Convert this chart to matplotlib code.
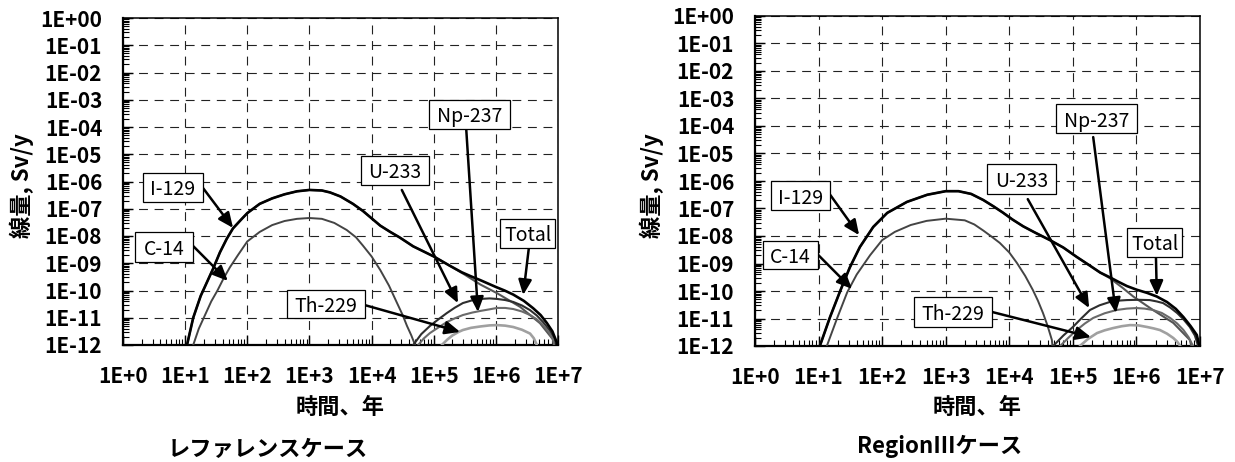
import numpy as np
import matplotlib
matplotlib.use("Agg")
import matplotlib.pyplot as plt
from matplotlib.ticker import LogLocator, FixedLocator, FixedFormatter, NullFormatter
from matplotlib.patches import Rectangle

plt.rcParams['font.family'] = ['Noto Sans CJK JP', 'DejaVu Sans']

# ---------------- data (log10 of time in years, log10 of dose in Sv/y) ----------------
x_tick_labels = ['1E+0', '1E+1', '1E+2', '1E+3', '1E+4', '1E+5', '1E+6', '1E+7']
y_tick_labels = ['1E+00', '1E-01', '1E-02', '1E-03', '1E-04', '1E-05', '1E-06',
                 '1E-07', '1E-08', '1E-09', '1E-10', '1E-11', '1E-12']
x_tick_exp = [0, 1, 2, 3, 4, 5, 6, 7]
y_tick_exp = [0, -1, -2, -3, -4, -5, -6, -7, -8, -9, -10, -11, -12]

# --- Reference case ---
ref_i129_lt = [1.00, 1.03, 1.13, 1.25, 1.35, 1.45, 1.56, 1.67, 1.77, 1.90, 2.00, 2.20, 2.40, 2.60, 2.80,
               3.00, 3.20, 3.33, 3.50, 3.70, 3.86, 4.00, 4.14, 4.30, 4.45, 4.67, 5.00, 5.25, 5.50,
               5.75, 6.02, 6.39, 6.71, 6.92, 6.98]
ref_i129_ld = [-12.6, -12.0, -11.0, -10.2, -9.7, -9.2, -8.6, -8.1, -7.72, -7.40, -7.16, -6.82, -6.62, -6.47, -6.36,
               -6.31, -6.33, -6.40, -6.55, -6.82, -7.08, -7.35, -7.62, -7.85, -8.05, -8.38, -8.75, -9.08, -9.42,
               -9.78, -10.10, -10.60, -11.20, -11.80, -12.50]
ref_c14_lt = [1.10, 1.13, 1.22, 1.30, 1.42, 1.52, 1.62, 1.72, 1.85, 2.00, 2.20, 2.40, 2.60, 2.80, 3.00,
              3.20, 3.40, 3.60, 3.75, 3.86, 4.00, 4.14, 4.28, 4.41, 4.50, 4.57, 4.64, 4.70, 4.73]
ref_c14_ld = [-12.6, -12.0, -11.4, -11.0, -10.4, -10.0, -9.55, -9.15, -8.70, -8.20, -7.85, -7.60, -7.45, -7.37, -7.34,
              -7.37, -7.52, -7.78, -8.05, -8.35, -8.75, -9.25, -9.82, -10.46, -10.90, -11.30, -11.65, -12.0, -12.5]
ref_u233_lt = [4.62, 4.67, 4.80, 4.94, 5.08, 5.21, 5.34, 5.47, 5.62, 5.75, 5.90, 6.02, 6.15, 6.28, 6.42,
               6.55, 6.66, 6.76, 6.86, 6.95, 6.99]
ref_u233_ld = [-12.5, -12.0, -11.6, -11.3, -11.05, -10.83, -10.63, -10.46, -10.36, -10.31, -10.29, -10.31, -10.35,
               -10.42, -10.55, -10.72, -10.92, -11.16, -11.45, -11.8, -12.5]
ref_np237_lt = [4.70, 4.75, 4.84, 4.94, 5.08, 5.21, 5.34, 5.47, 5.62, 5.75, 5.90, 6.02, 6.15, 6.28, 6.42,
                6.55, 6.66, 6.76, 6.85, 6.92, 6.97]
ref_np237_ld = [-12.5, -12.0, -11.76, -11.56, -11.35, -11.16, -11.02, -10.90, -10.81, -10.75, -10.69, -10.64, -10.64,
                -10.68, -10.77, -10.90, -11.06, -11.27, -11.52, -11.8, -12.5]
ref_th229_lt = [5.08, 5.13, 5.22, 5.30, 5.40, 5.47, 5.60, 5.75, 5.90, 6.02, 6.15, 6.28, 6.42, 6.55, 6.61, 6.66, 6.69]
ref_th229_ld = [-12.5, -12.0, -11.8, -11.65, -11.52, -11.45, -11.37, -11.32, -11.28, -11.27, -11.29, -11.34, -11.44,
                -11.58, -11.75, -12.0, -12.5]
ref_total_lt = [1.00, 1.03, 1.13, 1.25, 1.35, 1.45, 1.56, 1.67, 1.77, 1.90, 2.00, 2.20, 2.40, 2.60, 2.80,
                3.00, 3.20, 3.33, 3.50, 3.70, 3.86, 4.00, 4.14, 4.30, 4.45, 4.67, 5.00, 5.25, 5.45,
                5.60, 5.75, 5.88, 6.00, 6.14, 6.28, 6.45, 6.60, 6.72, 6.82, 6.91, 6.98, 7.00]
ref_total_ld = [-12.6, -12.0, -11.0, -10.2, -9.7, -9.2, -8.6, -8.1, -7.72, -7.40, -7.16, -6.82, -6.62, -6.47, -6.36,
                -6.31, -6.33, -6.40, -6.55, -6.82, -7.08, -7.35, -7.62, -7.85, -8.05, -8.38, -8.75, -9.08, -9.33,
                -9.48, -9.62, -9.75, -9.87, -10.00, -10.15, -10.38, -10.65, -10.90, -11.19, -11.5, -11.9, -12.5]

# --- Region III case ---
r3_i129_lt = [1.00, 1.02, 1.18, 1.34, 1.49, 1.65, 1.86, 2.08, 2.39, 2.71, 3.00, 3.20, 3.40, 3.59, 3.75,
              3.90, 4.05, 4.22, 4.40, 4.64, 4.85, 5.06, 5.25, 5.43, 5.58, 5.78, 5.95, 6.26, 6.58, 6.84, 6.92]
r3_i129_ld = [-12.6, -12.0, -10.95, -10.0, -9.15, -8.4, -7.67, -7.16, -6.76, -6.50, -6.37, -6.37, -6.47, -6.69, -6.92,
              -7.15, -7.40, -7.65, -7.87, -8.15, -8.42, -8.76, -9.05, -9.33, -9.53, -9.88, -10.20, -10.69, -11.16,
              -11.78, -12.5]
r3_c14_lt = [1.10, 1.13, 1.29, 1.45, 1.60, 1.81, 2.00, 2.20, 2.45, 2.70, 3.00, 3.30, 3.45, 3.59, 3.72,
             3.85, 4.00, 4.12, 4.25, 4.37, 4.45, 4.53, 4.60, 4.67, 4.70]
r3_c14_ld = [-12.6, -12.0, -11.0, -10.05, -9.40, -8.70, -8.15, -7.85, -7.60, -7.45, -7.37, -7.43, -7.58, -7.80, -8.02,
             -8.25, -8.60, -8.98, -9.45, -9.96, -10.35, -10.80, -11.25, -11.78, -12.5]
r3_u233_lt = [4.64, 4.69, 4.85, 5.00, 5.14, 5.27, 5.42, 5.58, 5.72, 5.85, 6.03, 6.21, 6.32, 6.42, 6.53,
              6.64, 6.74, 6.84, 6.92, 6.97, 7.00]
r3_u233_ld = [-12.5, -12.0, -11.62, -11.31, -10.98, -10.69, -10.52, -10.40, -10.35, -10.33, -10.32, -10.33, -10.38,
              -10.44, -10.60, -10.80, -11.03, -11.31, -11.62, -12.0, -12.5]
r3_np237_lt = [4.75, 4.80, 4.93, 5.06, 5.19, 5.32, 5.50, 5.69, 5.85, 6.00, 6.13, 6.26, 6.40, 6.53, 6.64,
               6.74, 6.82, 6.89, 6.92]
r3_np237_ld = [-12.5, -12.0, -11.70, -11.42, -11.18, -10.98, -10.81, -10.69, -10.64, -10.62, -10.64, -10.69, -10.80,
               -10.98, -11.18, -11.42, -11.68, -12.0, -12.5]
r3_th229_lt = [5.06, 5.11, 5.24, 5.38, 5.50, 5.63, 5.77, 5.90, 6.03, 6.17, 6.27, 6.37, 6.48, 6.58, 6.64, 6.69, 6.72]
r3_th229_ld = [-12.5, -12.0, -11.74, -11.53, -11.43, -11.35, -11.28, -11.24, -11.25, -11.31, -11.36, -11.42, -11.55,
               -11.71, -11.84, -12.0, -12.5]
r3_total_lt = [1.00, 1.02, 1.18, 1.34, 1.49, 1.65, 1.86, 2.08, 2.39, 2.71, 3.00, 3.20, 3.40, 3.59, 3.75,
               3.90, 4.05, 4.22, 4.40, 4.64, 4.85, 5.06, 5.25, 5.43, 5.58, 5.72, 5.85, 6.00, 6.17, 6.32,
               6.48, 6.62, 6.74, 6.85, 6.95, 7.00, 7.02]
r3_total_ld = [-12.6, -12.0, -10.95, -10.0, -9.15, -8.4, -7.67, -7.16, -6.76, -6.50, -6.37, -6.37, -6.47, -6.69, -6.92,
               -7.15, -7.40, -7.65, -7.87, -8.15, -8.42, -8.76, -9.05, -9.33, -9.50, -9.67, -9.82, -9.95, -10.07,
               -10.20, -10.40, -10.65, -10.95, -11.27, -11.6, -12.1, -12.5]

nuclides = ['I-129', 'C-14', 'U-233', 'Np-237', 'Th-229', 'Total']
ref_series = {
    'I-129': (ref_i129_lt, ref_i129_ld), 'C-14': (ref_c14_lt, ref_c14_ld),
    'U-233': (ref_u233_lt, ref_u233_ld), 'Np-237': (ref_np237_lt, ref_np237_ld),
    'Th-229': (ref_th229_lt, ref_th229_ld), 'Total': (ref_total_lt, ref_total_ld)}
r3_series = {
    'I-129': (r3_i129_lt, r3_i129_ld), 'C-14': (r3_c14_lt, r3_c14_ld),
    'U-233': (r3_u233_lt, r3_u233_ld), 'Np-237': (r3_np237_lt, r3_np237_ld),
    'Th-229': (r3_th229_lt, r3_th229_ld), 'Total': (r3_total_lt, r3_total_ld)}

styles = {
    'I-129': dict(color='#555555', lw=1.5, zorder=3),
    'C-14': dict(color='#444444', lw=1.4, zorder=3),
    'U-233': dict(color='#2e2e2e', lw=1.5, zorder=3),
    'Np-237': dict(color='#6a6a6a', lw=1.5, zorder=3),
    'Th-229': dict(color='#a0a0a0', lw=1.9, zorder=3),
    'Total': dict(color='#000000', lw=1.9, zorder=4),
}

# annotation layout in axes fraction: (label, box center, box size, arrow start, arrow tip)
ref_annots = [
    ('I-129', (0.115, 0.482), (0.138, 0.089), (0.184, 0.480), (0.253, 0.358)),
    ('C-14', (0.094, 0.300), (0.133, 0.092), (0.161, 0.303), (0.241, 0.196)),
    ('Th-229', (0.467, 0.125), (0.179, 0.086), (0.556, 0.122), (0.775, 0.040)),
    ('U-233', (0.625, 0.534), (0.156, 0.089), (0.641, 0.474), (0.770, 0.128)),
    ('Np-237', (0.797, 0.705), (0.186, 0.089), (0.789, 0.661), (0.816, 0.101)),
    ('Total', (0.930, 0.341), (0.126, 0.089), (0.933, 0.297), (0.920, 0.153)),
]
r3_annots = [
    ('I-129', (0.102, 0.456), (0.133, 0.088), (0.169, 0.458), (0.234, 0.336)),
    ('C-14', (0.080, 0.276), (0.124, 0.085), (0.142, 0.276), (0.218, 0.173)),
    ('Th-229', (0.445, 0.103), (0.175, 0.091), (0.533, 0.103), (0.755, 0.027)),
    ('U-233', (0.599, 0.506), (0.155, 0.088), (0.613, 0.445), (0.751, 0.115)),
    ('Np-237', (0.767, 0.689), (0.182, 0.088), (0.760, 0.633), (0.811, 0.100)),
    ('Total', (0.898, 0.314), (0.124, 0.088), (0.901, 0.270), (0.903, 0.152)),
]

W, H = 1235, 462
fig = plt.figure(figsize=(W / 100, H / 100), dpi=100)
fig.patch.set_facecolor('white')
ax1 = fig.add_axes([123 / W, (H - 345) / H, 435 / W, 327 / H])
ax2 = fig.add_axes([755 / W, (H - 346) / H, 445 / W, 330 / H])


def setup(ax, series, annots):
    ax.set_xscale('log')
    ax.set_yscale('log')
    for name in nuclides:
        lt, ld = series[name]
        ax.plot(np.power(10.0, lt), np.power(10.0, ld), solid_capstyle='round',
                solid_joinstyle='round', **styles[name])
    ax.set_xlim(1, 1e7)
    ax.set_ylim(1e-12, 1)
    ax.xaxis.set_major_locator(FixedLocator(np.power(10.0, x_tick_exp)))
    ax.xaxis.set_major_formatter(FixedFormatter(x_tick_labels))
    ax.yaxis.set_major_locator(FixedLocator(np.power(10.0, y_tick_exp)))
    ax.yaxis.set_major_formatter(FixedFormatter(y_tick_labels))
    ax.xaxis.set_minor_locator(LogLocator(base=10, subs=np.arange(2, 10), numticks=200))
    ax.yaxis.set_minor_locator(LogLocator(base=10, subs=np.arange(2, 10), numticks=200))
    ax.xaxis.set_minor_formatter(NullFormatter())
    ax.yaxis.set_minor_formatter(NullFormatter())
    ax.tick_params(which='major', direction='in', length=7, width=1.0, top=False, right=False)
    ax.tick_params(which='minor', direction='in', length=4, width=0.8, top=False, right=False)
    ax.tick_params(axis='y', which='major', pad=15)
    ax.tick_params(axis='x', which='major', pad=15)
    for lab in ax.get_xticklabels() + ax.get_yticklabels():
        lab.set_fontsize(15)
        lab.set_fontweight('bold')
    ax.grid(True, which='major', linestyle=(0, (8, 6)), color='#222222', lw=0.8, zorder=1)
    ax.set_axisbelow(True)
    ax.spines['left'].set_linewidth(1.6)
    ax.spines['bottom'].set_linewidth(1.6)
    ax.spines['top'].set_linewidth(1.1)
    ax.spines['right'].set_linewidth(1.1)
    for label, (cx, cy), (bw, bh), start, tip in annots:
        ax.annotate('', xy=tip, xytext=start, xycoords='axes fraction', textcoords='axes fraction',
                    arrowprops=dict(arrowstyle='-|>,head_length=0.45,head_width=0.2', color='black',
                                    lw=1.8, shrinkA=0, shrinkB=0, mutation_scale=20), zorder=6)
        ax.add_patch(Rectangle((cx - bw / 2, cy - bh / 2), bw, bh, transform=ax.transAxes,
                               facecolor='white', edgecolor='black', lw=0.9, zorder=7, clip_on=False))
        ax.text(cx, cy, label, transform=ax.transAxes, ha='center', va='center_baseline',
                fontsize=14, zorder=8)


setup(ax1, ref_series, ref_annots)
setup(ax2, r3_series, r3_annots)

lab_kw = dict(fontsize=16, fontweight='bold')
fig.text(22 / W, (H - 186) / H, '線量, Sv/y', rotation=90, ha='center', va='center', **lab_kw)
fig.text(652 / W, (H - 186) / H, '線量, Sv/y', rotation=90, ha='center', va='center', **lab_kw)
fig.text(340 / W, (H - 407) / H, '時間、年', ha='center', va='center', **lab_kw)
fig.text(977 / W, (H - 407) / H, '時間、年', ha='center', va='center', **lab_kw)
fig.text(168 / W, (H - 449) / H, 'レファレンスケース', ha='left', va='center', **lab_kw)
fig.text(857 / W, (H - 446) / H, 'RegionⅢケース', ha='left', va='center', **lab_kw)

fig.savefig('out.png', dpi=100, facecolor='white')
